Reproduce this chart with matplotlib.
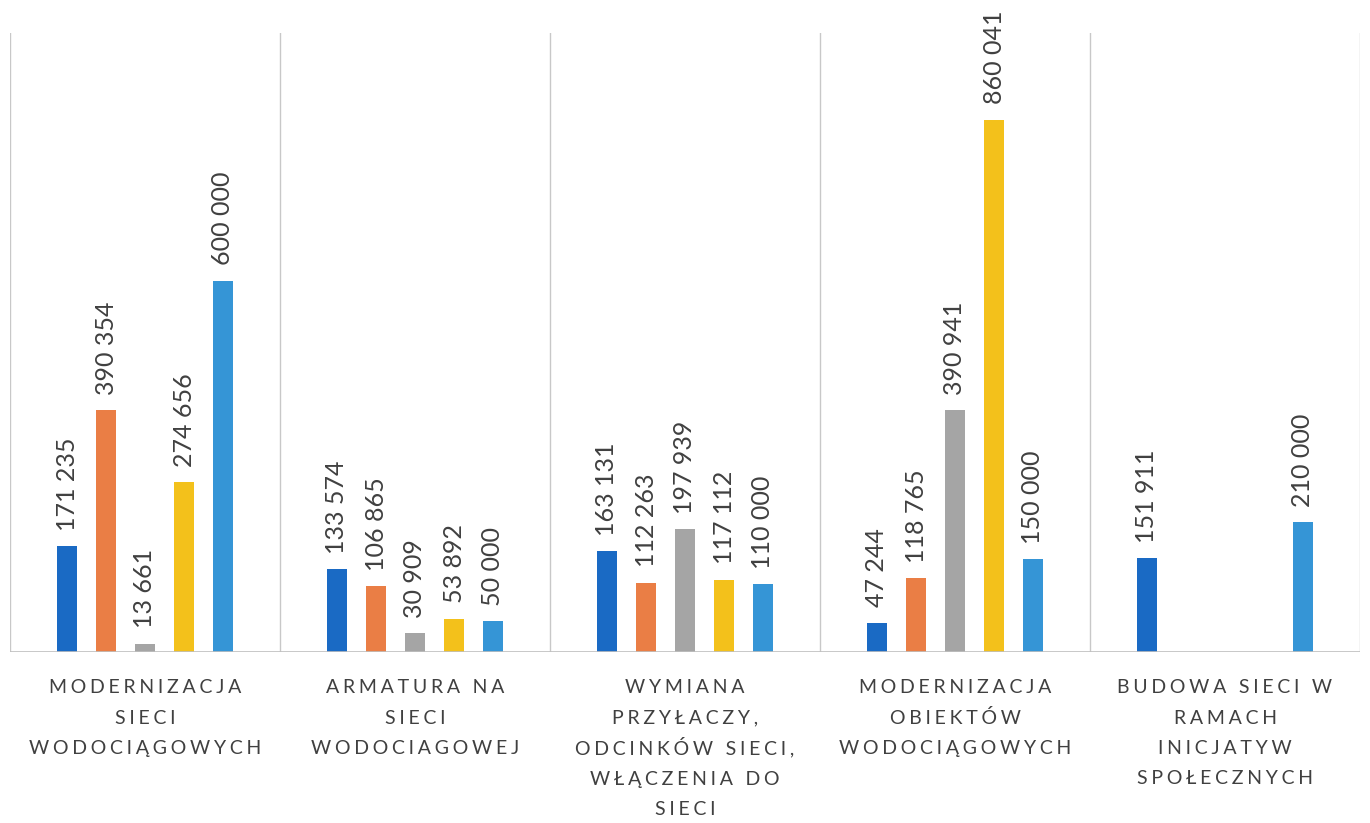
import numpy as np
import matplotlib
matplotlib.use("Agg")
import matplotlib.pyplot as plt
from matplotlib.transforms import offset_copy

categories = [
    "MODERNIZACJA\nSIECI\nWODOCIĄGOWYCH",
    "ARMATURA NA\nSIECI\nWODOCIAGOWEJ",
    "WYMIANA\nPRZYŁACZY,\nODCINKÓW SIECI,\nWŁĄCZENIA DO\nSIECI",
    "MODERNIZACJA\nOBIEKTÓW\nWODOCIĄGOWYCH",
    "BUDOWA SIECI W\nRAMACH\nINICJATYW\nSPOŁECZNYCH",
]
series1 = [171235, 133574, 163131, 47244, 151911]
series2 = [390354, 106865, 112263, 118765, np.nan]
series3 = [13661, 30909, 197939, 390941, np.nan]
series4 = [274656, 53892, 117112, 860041, np.nan]
series5 = [600000, 50000, 110000, 150000, 210000]

series = [series1, series2, series3, series4, series5]
colors = ["#1A6AC4", "#EA7E45", "#A5A5A5", "#F3C11B", "#3595D6"]

plt.rcParams['font.family'] = ['Lato', 'DejaVu Sans']

fig = plt.figure(figsize=(13.7, 8.23), dpi=100)
ax = fig.add_axes([10/1370, 1 - 652/823, 1350/1370, (652-33)/823])

n = len(categories)
x = np.arange(n)
step = 39/270
width = 20/270
for i, (vals, c) in enumerate(zip(series, colors)):
    offs = (i - 2) * step
    v = np.array(vals, dtype=float)
    ax.bar(x + offs, v, width=width, color=c, zorder=3)
    for xi, val in zip(x + offs, v):
        if np.isnan(val):
            continue
        lbl = f"{int(val):,}".replace(",", " ")
        ax.annotate(lbl, (xi, val), xytext=(0, 11), textcoords="offset points",
                    rotation=90, ha="center", va="bottom", fontsize=18,
                    color="#404040")

ax.set_xlim(-0.5, n - 0.5)
ax.set_ylim(0, 1000000)
for b in np.arange(-0.5, n, 1.0):
    ax.axvline(b, color="#C8C8C8", lw=1.0, zorder=1)
ax.axhline(0, color="#BFBFBF", lw=1.2, zorder=4)

for s in ax.spines.values():
    s.set_visible(False)
ax.set_yticks([])
ax.set_xticks([])

SP = "\u2009\u200a"
def spaced(line):
    return SP.join(list(line))

base = ax.get_xaxis_transform()
pitch_pt = 30.5 * 72 / 100
first_pt = 41 * 72 / 100
for xi, cat in zip(x, categories):
    for k, line in enumerate(cat.split("\n")):
        tr = offset_copy(base, fig=fig, x=0, y=-(first_pt + k * pitch_pt), units="points")
        ax.text(xi, 0, spaced(line), transform=tr, ha="center", va="baseline",
                fontsize=14, color="#404040")

fig.savefig("out.png", dpi=100, facecolor="white")
